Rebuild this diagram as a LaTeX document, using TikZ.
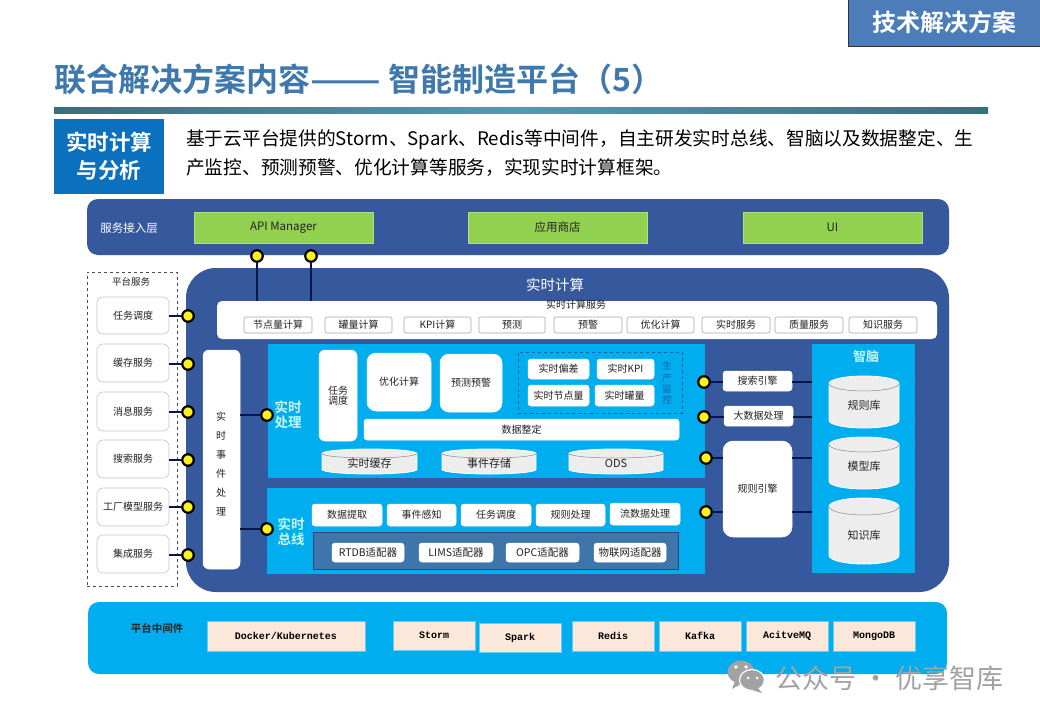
\documentclass[tikz,border=0pt]{standalone}
\usepackage{fontspec}
\setmainfont{Noto Sans CJK SC}[BoldFont={Noto Sans CJK SC Bold}]
\newfontfamily\latinmono{Liberation Mono}[BoldFont={Liberation Mono Bold}]
\usetikzlibrary{calc}
\definecolor{navy}{HTML}{36589C}
\definecolor{sky}{HTML}{00AEEF}
\definecolor{leaf}{HTML}{92D050}
\definecolor{wire}{HTML}{07164A}
\definecolor{titleblue}{HTML}{3F78AC}
\definecolor{lab}{HTML}{C9F6F4}
\definecolor{ink}{HTML}{222222}
\definecolor{cylf}{HTML}{EDEDED}
\definecolor{peach}{HTML}{FBE8DB}
\definecolor{wm}{HTML}{A2A2A2}
\definecolor{sidec}{HTML}{0B70BE}
\definecolor{tabc}{HTML}{4C7DB9}
\definecolor{ruled}{HTML}{35717F}
\definecolor{rulel}{HTML}{4C9DB0}
\definecolor{monc}{HTML}{0B5FA5}
\definecolor{dotc}{HTML}{FFF21A}
% \rb[style]{name}{x0}{y0}{x1}{y1}{text}
\newcommand\rb[7][]{\node[bxbase,#1,minimum width={(#5-#3)*1pt},minimum height={(#6-#4)*1pt}] (#2) at ({(#3+#5)/2},{(#4+#6)/2}) {#7};}
% \cyl{name}{x0}{y0}{x1}{y1}{ry}{text}{fontsize}
\newcommand\cyl[8]{%
  \draw[cylline] (#2,#3+#6) arc[start angle=180,end angle=360,x radius={(#4-#2)/2},y radius=#6]
     -- (#4,#5-#6) arc[start angle=0,end angle=180,x radius={(#4-#2)/2},y radius=#6] -- cycle;
  \draw[cyltop] (#2,#3+#6) arc[start angle=180,end angle=0,x radius={(#4-#2)/2},y radius=#6];
  \node[font=\fontsize{#8}{#8}\selectfont,text=ink,inner sep=0pt] (#1) at ({(#2+#4)/2},{(#3+#5)/2+#6/2}) {#7};}
\tikzset{
  bxbase/.style={inner sep=0pt,outer sep=0pt,align=center,text=ink},
  fs/.style={font=\fontsize{#1}{#1}\selectfont},
  card/.style={fill=white,draw=white,line width=0.5pt,rounded corners=3pt,fs=10},
  tag/.style={fill=white,draw=black!35,line width=0.6pt,rounded corners=2pt,fs=10},
  svc/.style={fill=white,draw=black!22,line width=0.6pt,rounded corners=6pt,fs=10},
  green/.style={fill=leaf,draw=leaf!70!white,line width=0.8pt,fs=11.5},
  mid/.style={fill=peach,draw=sky!60!white,line width=0.5pt,text=black,font=\latinmono\bfseries\fontsize{10}{10}\selectfont},
  dotn/.style={circle,fill=dotc,draw=black,line width=2.2pt,minimum size=11.5pt,inner sep=0pt,outer sep=0pt},
  conn/.style={draw=wire,line width=2.6pt},
  cylline/.style={fill=cylf,draw=white,line width=0.8pt},
  cyltop/.style={draw=black!45,line width=0.5pt},
}
\begin{document}
\begin{tikzpicture}[x=1pt,y=-1pt]
\path[use as bounding box,fill=white] (0,0) rectangle (1040,720);
% header
\rb[fill=tabc,draw=black!80,line width=0.8pt,text=white,font=\bfseries\fontsize{24}{26}\selectfont]{tab}{848}{-1}{1041}{46}{技术解决方案}
\node[anchor=west,inner sep=0pt,text=titleblue,font=\bfseries\fontsize{32}{34}\selectfont] (title) at (54,79) {联合解决方案内容\scalebox{1.3}[1]{——} 智能制造平台（5）};
\fill[left color=ruled,right color=ruled,middle color=rulel] (54,107) rectangle (988,113);
\rb[fill=sidec,text=white,font=\bfseries\fontsize{21.5}{28}\selectfont]{side}{54}{119}{164}{194}{实时计算\\与分析}
\node[anchor=west,inner sep=0pt,text=black,font=\fontsize{18.7}{20}\selectfont] (d1) at (186,140) {基于云平台提供的Storm、Spark、Redis等中间件，自主研发实时总线、智脑以及数据整定、生};
\node[anchor=west,inner sep=0pt,text=black,font=\fontsize{18.7}{20}\selectfont] (d2) at (186,168) {产监控、预测预警、优化计算等服务，实现实时计算框架。};
% service access
\rb[fill=navy,rounded corners=11pt]{access}{87}{199}{949}{255}{}
\node[text=white,fs=11.5,inner sep=0pt] (accessl) at (129,228) {服务接入层};
\rb[green]{api}{194}{212}{373}{243}{API Manager}
\rb[green]{store}{468}{212}{647}{243}{应用商店}
\rb[green]{ui}{743}{212}{922}{243}{UI}
% platform services
\rb[draw=black!70,dashed,line width=0.6pt]{plat}{87}{272}{177}{586}{}
\node[fs=9.5,text=ink,inner sep=0pt] (platl) at (131,282) {平台服务};
\rb[svc]{s1}{97}{297}{169}{334}{任务调度}
\rb[svc]{s2}{97}{344}{169}{382}{缓存服务}
\rb[svc]{s3}{97}{392}{169}{431}{消息服务}
\rb[svc]{s4}{97}{440}{169}{478}{搜索服务}
\rb[svc]{s5}{97}{488}{169}{526}{工厂模型服务}
\rb[svc]{s6}{97}{535}{169}{573}{集成服务}
% main panel
\rb[fill=navy,rounded corners=30pt]{main}{186}{268}{949}{592}{}
\node[text=white,fs=14.5,inner sep=0pt] (mainl) at (555,285) {实时计算};
\rb[fill=white,rounded corners=5pt]{rts}{217}{301}{937}{339}{}
\node[fs=10,text=ink,inner sep=0pt] (rtsl) at (576,305) {实时计算服务};
\rb[tag]{t1}{244}{317}{312}{333}{节点量计算}
\rb[tag]{t2}{325}{317}{392}{333}{罐量计算}
\rb[tag]{t3}{404}{317}{471}{333}{KPI计算}
\rb[tag]{t4}{479}{317}{545}{333}{预测}
\rb[tag]{t5}{554}{317}{622}{333}{预警}
\rb[tag]{t6}{627}{317}{694}{333}{优化计算}
\rb[tag]{t7}{702}{317}{770}{333}{实时服务}
\rb[tag]{t8}{775}{317}{843}{333}{质量服务}
\rb[tag]{t9}{849}{317}{917}{333}{知识服务}
% event box
\rb[card,rounded corners=6pt]{evt}{203}{350}{240}{569}{}
\node[align=center,inner sep=0pt,text=ink,font=\fontsize{10}{19}\selectfont] (evtl) at (221,464) {实\\时\\事\\件\\处\\理};
% real-time processing
\rb[fill=sky]{proc}{268}{344}{705}{478}{}
\node[align=center,inner sep=0pt,text=lab,font=\bfseries\fontsize{13.5}{15.5}\selectfont] (procl) at (288,415) {实时\\处理};
\rb[card,rounded corners=6pt,font=\fontsize{10}{9.5}\selectfont]{p1}{319}{350}{357}{441}{任务\\调度}
\rb[card,rounded corners=9pt]{p2}{367}{353}{431}{411}{优化计算}
\rb[card,rounded corners=9pt]{p3}{440}{354}{502}{412}{预测预警}
\rb[draw=monc,dashed,line width=0.5pt]{mon}{518}{352}{682}{413}{}
\rb[card]{m1}{528}{359}{589}{379}{实时偏差}
\rb[card]{m2}{597}{359}{654}{379}{实时KPI}
\rb[card]{m3}{528}{385}{589}{406}{实时节点量}
\rb[card]{m4}{595}{385}{654}{406}{实时罐量}
\node[align=center,inner sep=0pt,text=monc,font=\fontsize{9.5}{11.3}\selectfont] (monl) at (667,383) {生\\产\\监\\控};
\rb[card]{align}{364}{419}{679}{440}{数据整定}
\cyl{c1}{322}{449}{417}{474}{4.5}{实时缓存}{11}
\cyl{c2}{442}{449}{536}{474}{4.5}{事件存储}{11}
\cyl{c3}{569}{449}{663}{474}{4.5}{ODS}{11}
% real-time bus
\rb[fill=sky]{bus}{267}{488}{705}{574}{}
\node[align=center,inner sep=0pt,text=lab,font=\bfseries\fontsize{13.5}{15.5}\selectfont] (busl) at (291,532) {实时\\总线};
\rb[card]{b1}{312}{504}{382}{526}{数据提取}
\rb[card]{b2}{387}{504}{456}{526}{事件感知}
\rb[card]{b3}{461}{504}{531}{526}{任务调度}
\rb[card]{b4}{536}{504}{605}{526}{规则处理}
\rb[card]{b5}{610}{503}{680}{525}{流数据处理}
\rb[fill=titleblue!90!navy,draw=navy!80!black,line width=0.6pt]{adp}{313}{532}{678}{569}{}
\rb[card,fs=10.5]{a1}{332}{543}{404}{562}{RTDB适配器}
\rb[card,fs=10.5]{a2}{419}{543}{493}{562}{LIMS适配器}
\rb[card,fs=10.5]{a3}{506}{543}{579}{562}{OPC适配器}
\rb[card,fs=10.5]{a4}{594}{543}{666}{562}{物联网适配器}
% engines
\rb[card]{e1}{723}{371}{792}{391}{搜索引擎}
\rb[card]{e2}{724}{406}{793}{426}{大数据处理}
\rb[card,rounded corners=10pt]{e3}{723}{441}{792}{537}{规则引擎}
% brain
\rb[fill=sky]{brain}{812}{344}{915}{573}{}
\node[text=lab,font=\bfseries\fontsize{13}{14}\selectfont,inner sep=0pt] (brainl) at (866,357) {智脑};
\cyl{k1}{829}{376}{899}{428}{7.5}{规则库}{11}
\cyl{k2}{829}{437}{899}{489}{7.5}{模型库}{11}
\cyl{k3}{829}{498}{899}{564}{8.5}{知识库}{11}
% dots
\node[dotn] (ta) at (257,256) {};
\node[dotn] (tb) at (311,256) {};
\node[dotn] (l1) at (188,316) {};
\node[dotn] (l2) at (188,364) {};
\node[dotn] (l3) at (188,412) {};
\node[dotn] (l4) at (188,460) {};
\node[dotn] (l5) at (188,507) {};
\node[dotn] (l6) at (188,555) {};
\node[dotn] (pd) at (267,415) {};
\node[dotn] (bd) at (267,529) {};
\node[dotn] (r1) at (704,382) {};
\node[dotn] (r2) at (704,417) {};
\node[dotn] (r3) at (706,458) {};
\node[dotn] (r4) at (706,512) {};
% connectors
\draw[conn] (ta) -- (ta |- rts.north);
\draw[conn] (tb) -- (tb |- rts.north);
\foreach \i in {1,...,6} {\draw[conn] (s\i.east |- l\i) -- (l\i);}
\draw[conn] (evt.east |- pd) -- (pd);
\draw[conn] (evt.east |- bd) -- (bd);
\draw[conn] (r1) -- (e1.west |- r1);
\draw[conn] (r2) -- (e2.west |- r2);
\draw[conn] (r3) -- (e3.west |- r3);
\draw[conn] (r4) -- (e3.west |- r4);
\draw[conn] (e1.east |- r1) -- (brain.west |- r1);
\draw[conn] (e2.east |- r2) -- (brain.west |- r2);
\draw[conn] (e3.east |- r3) -- (brain.west |- r3);
\draw[conn] (e3.east |- r4) -- (brain.west |- r4);
% middleware
\rb[fill=sky,rounded corners=11pt]{mw}{88}{602}{947}{674}{}
\node[font=\bfseries\fontsize{10.5}{12}\selectfont,text=ink,inner sep=0pt] (mwl) at (157,628) {平台中间件};
\rb[mid]{w1}{207}{621}{365}{651}{Docker/Kubernetes}
\rb[mid]{w2}{393}{621}{475}{650}{Storm}
\rb[mid]{w3}{479}{623}{561}{652}{Spark}
\rb[mid]{w4}{572}{621}{654}{651}{Redis}
\rb[mid]{w5}{659}{621}{741}{651}{Kafka}
\rb[mid]{w6}{746}{621}{828}{651}{AcitveMQ}
\rb[mid]{w7}{833}{621}{915}{651}{MongoDB}
% watermark
\fill[wm] (741,672) ellipse[x radius=13.5,y radius=11.5];
\fill[wm] (735,681) -- (732,689) -- (743,683) -- cycle;
\fill[wm,draw=white,line width=1.2pt] (752,680) ellipse[x radius=12.5,y radius=10.5];
\fill[wm] (758,688) -- (762,693) -- (752,690) -- cycle;
\fill[white] (736,667) circle[radius=1.8] (746,667) circle[radius=1.8] (748,678) circle[radius=1.5] (757,678) circle[radius=1.5];
\node[anchor=west,inner sep=0pt,text=wm,font=\fontsize{27}{29}\selectfont] (wml) at (775,678) {公众号 · 优享智库};
\end{tikzpicture}
\end{document}
